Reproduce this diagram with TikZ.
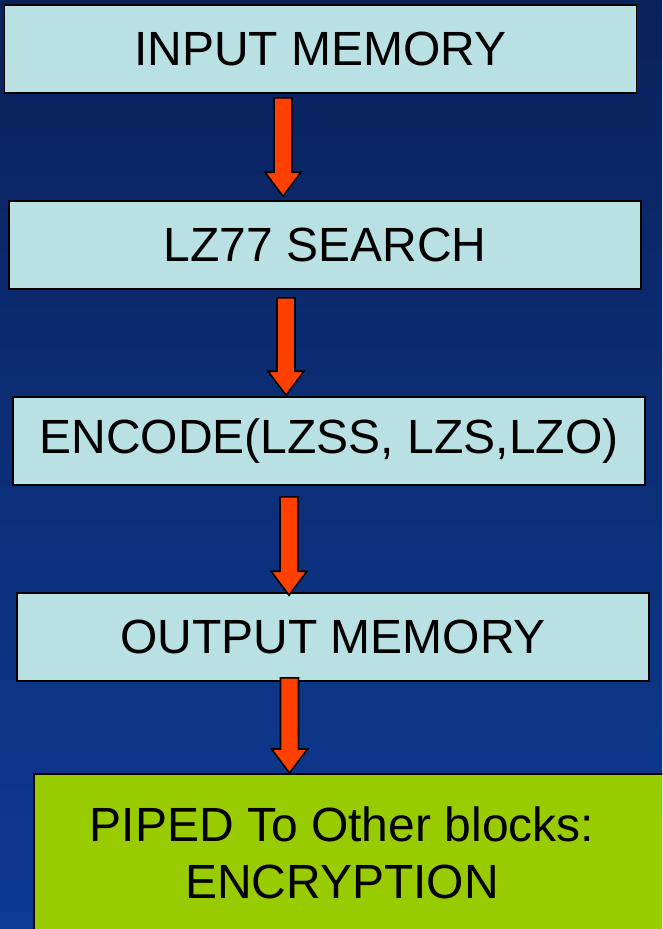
\documentclass[tikz,border=0pt]{standalone}
\usepackage{fontspec}
\setmainfont{Liberation Sans}
\usepackage{tikz}
\usetikzlibrary{calc}

\definecolor{slidetop}{RGB}{10,34,92}
\definecolor{slidebottom}{RGB}{14,58,148}
\definecolor{boxcyan}{RGB}{185,224,227}
\definecolor{pipegreen}{RGB}{153,204,0}
\definecolor{arroworange}{RGB}{255,64,0}

\tikzset{
  stagebox/.style={draw=black, line width=1.2pt, fill=boxcyan,
    minimum width=474pt, minimum height=66pt, inner sep=0pt,
    font=\fontsize{36}{43}\selectfont},
  pipebox/.style={draw=black, line width=1.2pt, fill=pipegreen,
    minimum width=520pt, minimum height=150pt, anchor=north west},
  flowarrow/.style={draw=black, line width=1.2pt, fill=arroworange, line join=miter}
}

% block arrow: from node, to node, x, gap below source, gap above target
\newcommand{\flowarrow}[5]{%
  \draw[flowarrow] let \p1=($(#3,0 |- #1.south)+(0,#4)$),
    \p2=($(#3,0 |- #2.north)+(0,#5)$) in
    (\x1-6.75pt,\y1) -- (\x1+6.75pt,\y1) -- (\x1+6.75pt,\y2+18pt)
    -- (\x1+13.5pt,\y2+18pt) -- (\x2,\y2) -- (\x1-13.5pt,\y2+18pt)
    -- (\x1-6.75pt,\y2+18pt) -- cycle;}

\begin{document}
\begin{tikzpicture}[x=0.75pt, y=-0.75pt]

% Background
\useasboundingbox (0,0) rectangle (662,929);
\clip (0,0) rectangle (662,929);
\shade[top color=slidetop, bottom color=slidebottom] (0,0) rectangle (662,929);

% Stages
\node[stagebox] (inmem) at (320.5,49) {INPUT MEMORY};
\node[stagebox] (lzsearch) at (325,245) {LZ77 SEARCH};
\node[stagebox] (encode) at (329,441) {ENCODE(LZSS, LZS,LZO)};
\node[stagebox] (outmem) at (333,637) {OUTPUT MEMORY};

% Piped block
\node[pipebox] (piped) at (33,773) {};
\node[font=\fontsize{36}{42.75}\selectfont, align=center, inner sep=0pt]
  (pipedtext) at (342,853) {PIPED To Other blocks:\\ENCRYPTION};

% Arrows
\flowarrow{inmem}{lzsearch}{283}{4}{-4}
\flowarrow{lzsearch}{encode}{286}{8}{-1}
\flowarrow{encode}{outmem}{289}{11}{3}
\flowarrow{outmem}{piped}{289.5}{-4}{0}

\end{tikzpicture}
\end{document}
